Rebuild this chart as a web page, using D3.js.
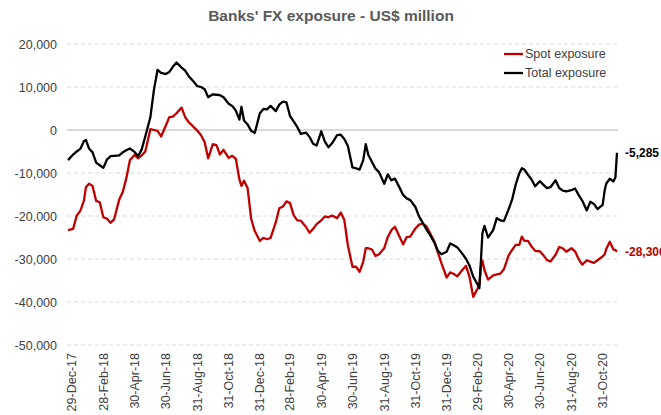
<!DOCTYPE html>
<html>
<head>
<meta charset="utf-8">
<script src="https://cdn.jsdelivr.net/npm/d3@7"></script>
<style>
  body { margin: 0; background: #fff; font-family: Arial, "Liberation Sans", sans-serif; }
</style>
</head>
<body>
<svg id="chart" width="661" height="415"></svg>
<script>
// observation dates (roughly weekly, extra points at sharp moves)
const dates = [
  '2017-12-22',
  '2018-01-01','2018-01-08','2018-01-15','2018-01-22','2018-01-26',
  '2018-02-01','2018-02-08','2018-02-15','2018-02-22',
  '2018-03-01','2018-03-08','2018-03-15','2018-03-22',
  '2018-04-01','2018-04-08','2018-04-15','2018-04-22',
  '2018-05-01','2018-05-08','2018-05-15','2018-05-22',
  '2018-06-01','2018-06-08','2018-06-15','2018-06-22',
  '2018-07-01','2018-07-08','2018-07-15','2018-07-22',
  '2018-08-01','2018-08-08','2018-08-15','2018-08-22',
  '2018-09-01','2018-09-08','2018-09-15','2018-09-22',
  '2018-10-01','2018-10-08','2018-10-15','2018-10-22',
  '2018-11-01','2018-11-08','2018-11-15','2018-11-22','2018-11-26',
  '2018-12-01','2018-12-08','2018-12-15','2018-12-22',
  '2019-01-01','2019-01-08','2019-01-15','2019-01-22',
  '2019-02-01','2019-02-08','2019-02-15','2019-02-22',
  '2019-03-01','2019-03-08','2019-03-15','2019-03-22',
  '2019-04-01','2019-04-08','2019-04-15','2019-04-22',
  '2019-05-01','2019-05-08','2019-05-15','2019-05-22',
  '2019-06-01','2019-06-08','2019-06-15','2019-06-22',
  '2019-07-01','2019-07-08','2019-07-15','2019-07-22','2019-07-27',
  '2019-08-01','2019-08-08','2019-08-15','2019-08-22',
  '2019-09-01','2019-09-08','2019-09-15','2019-09-22',
  '2019-10-01','2019-10-08','2019-10-15','2019-10-22',
  '2019-11-01','2019-11-08','2019-11-15','2019-11-22',
  '2019-12-01','2019-12-08','2019-12-15','2019-12-22',
  '2020-01-01','2020-01-08','2020-01-15','2020-01-22',
  '2020-02-01','2020-02-08','2020-02-15','2020-02-22',
  '2020-03-01','2020-03-05','2020-03-08','2020-03-11','2020-03-15','2020-03-22',
  '2020-04-01','2020-04-08','2020-04-15','2020-04-22',
  '2020-05-01','2020-05-08','2020-05-15','2020-05-22','2020-05-27',
  '2020-06-01','2020-06-08','2020-06-15','2020-06-22',
  '2020-07-01','2020-07-08','2020-07-15','2020-07-22',
  '2020-08-01','2020-08-08','2020-08-15','2020-08-22',
  '2020-09-01','2020-09-08','2020-09-15','2020-09-22',
  '2020-10-01','2020-10-08','2020-10-15','2020-10-22',
  '2020-11-01','2020-11-05','2020-11-08','2020-11-15','2020-11-22','2020-11-26','2020-11-29'
];

// US$ million
const spot = [
  -23300,
  -23000,-19900,-18800,-16500,-13300,
  -12500,-13000,-16500,-16800,
  -20300,-20600,-21600,-20800,
  -16200,-14400,-11200,-7000,
  -5800,-6600,-5900,-5000,
  200,0,-200,-1500,
  1000,3000,3100,3900,
  5200,3000,1800,1000,
  -200,-1200,-2800,-6600,
  -3300,-3500,-5700,-4600,
  -6500,-6000,-6700,-11500,-13000,
  -11800,-13500,-20700,-23500,
  -25800,-25100,-25400,-25100,
  -21500,-18200,-17800,-16600,
  -17000,-19800,-21000,-21100,
  -22500,-23900,-23000,-21900,
  -21000,-20100,-20300,-19900,
  -20500,-19200,-20900,-26800,
  -31800,-31800,-33000,-30600,-27500,
  -27500,-27800,-29300,-28900,
  -27500,-24900,-23300,-22500,
  -24800,-26600,-24900,-24800,
  -22900,-22000,-21800,-22300,
  -24300,-25900,-28500,-31000,
  -34300,-33100,-33500,-34000,
  -32500,-31600,-34300,-38800,
  -37000,-36000,-31800,-30400,-32600,-34800,
  -33800,-33600,-33400,-32400,
  -29200,-27900,-26700,-26700,-24800,
  -25800,-25800,-27100,-28100,
  -28200,-29100,-30200,-30600,
  -29000,-27200,-27500,-28300,
  -27500,-28200,-30000,-31300,
  -30300,-30600,-30900,-30300,
  -29400,-28900,-27700,-26000,-27800,-27900,-28306
];

const total = [
  -7000,
  -5700,-5000,-4400,-2600,-2300,
  -4300,-5200,-7600,-8200,
  -8800,-6900,-6100,-6000,
  -5900,-5200,-4700,-4300,
  -5100,-6100,-4500,-1500,
  3000,9400,14000,13300,
  13000,13500,14700,15700,
  14500,13800,12500,11600,
  10200,10000,9500,7600,
  8300,8200,8100,7600,
  6100,5600,4500,2400,5400,
  2200,1300,-200,-700,
  3900,4900,4800,5600,
  4400,5900,6600,6400,
  3200,2000,700,-900,
  -600,-1600,-3200,-3600,
  -300,-2700,-4000,-3100,
  -1200,-1100,-2100,-3700,
  -8700,-8900,-9200,-7000,-3300,
  -5800,-7400,-9000,-9800,
  -12500,-10300,-11700,-11300,
  -13400,-15100,-15900,-16300,
  -17900,-20100,-21500,-23000,
  -24700,-26200,-28100,-28900,
  -28300,-26400,-26800,-27300,
  -28800,-30000,-31600,-34100,
  -35800,-36800,-30500,-24000,-22300,-25000,
  -23300,-20500,-21000,-21200,
  -18500,-16200,-12700,-10100,-8900,
  -9200,-10400,-11500,-13100,
  -11900,-12700,-13500,-13300,
  -11700,-13500,-14100,-14300,
  -14000,-13600,-15100,-16400,
  -18700,-16700,-17200,-18400,
  -17400,-14000,-12500,-11300,-12000,-11000,-5285
];

const tickDates = [
  '2017-12-29','2018-02-28','2018-04-30','2018-06-30','2018-08-31','2018-10-31',
  '2018-12-31','2019-02-28','2019-04-30','2019-06-30','2019-08-31','2019-10-31',
  '2019-12-31','2020-02-29','2020-04-30','2020-06-30','2020-08-31','2020-10-31'
];
const yTicks = [-50000, -40000, -30000, -20000, -10000, 0, 10000, 20000];
const seriesNames = ['Spot exposure', 'Total exposure'];
const colors = ['#c00000', '#000000'];

const svg = d3.select('#chart');
const parse = d3.utcParse('%Y-%m-%d');
const fmt = d3.formatLocale({decimal: '.', thousands: ',', grouping: [3], currency: ['$', ''], minus: '-'}).format(',');

const plot = {left: 67, right: 618, top: 44, bottom: 345};

const x = d3.scaleUtc()
  .domain([parse('2017-12-20'), parse('2020-12-01')])
  .range([plot.left, plot.right]);
const y = d3.scaleLinear()
  .domain([-50000, 20000])
  .range([plot.bottom, plot.top]);

// title
svg.append('text')
  .attr('x', 331)
  .attr('y', 21)
  .attr('text-anchor', 'middle')
  .style('font-size', '15.5px')
  .style('font-weight', 'bold')
  .style('fill', '#595959')
  .text("Banks' FX exposure - US$ million");

// gridlines
svg.append('g')
  .selectAll('line')
  .data(yTicks)
  .join('line')
    .attr('x1', plot.left)
    .attr('x2', plot.right)
    .attr('y1', d => y(d))
    .attr('y2', d => y(d))
    .attr('stroke', '#d9d9d9')
    .attr('stroke-width', d => d === 0 ? 2 : 1)
    .attr('stroke-dasharray', d => d === 0 ? null : '4,3');

// y axis
const yAxis = svg.append('g')
  .attr('transform', 'translate(' + plot.left + ',0)')
  .call(d3.axisLeft(y).tickValues(yTicks).tickSize(0).tickPadding(10).tickFormat(fmt));
yAxis.select('.domain').remove();
yAxis.selectAll('text')
  .style('font-size', '12.5px')
  .style('font-family', 'Arial, "Liberation Sans", sans-serif')
  .style('fill', '#404040');

// x axis
const xAxis = svg.append('g')
  .attr('transform', 'translate(0,' + plot.bottom + ')')
  .call(d3.axisBottom(x)
    .tickValues(tickDates.map(parse))
    .tickSize(0)
    .tickFormat(d3.utcFormat('%d-%b-%y')));
xAxis.select('.domain').remove();
xAxis.selectAll('text')
  .attr('transform', 'rotate(-90)')
  .attr('x', -8)
  .attr('y', 0)
  .attr('dy', '0.35em')
  .attr('text-anchor', 'end')
  .style('font-size', '12.5px')
  .style('font-family', 'Arial, "Liberation Sans", sans-serif')
  .style('fill', '#404040');

// lines
const series = [spot, total].map((vals, i) => ({
  name: seriesNames[i],
  color: colors[i],
  values: vals.map((v, j) => ({date: parse(dates[j]), value: v}))
}));

const line = d3.line()
  .x(d => x(d.date))
  .y(d => y(d.value));

svg.append('g')
  .selectAll('path')
  .data(series)
  .join('path')
    .attr('d', d => line(d.values))
    .attr('fill', 'none')
    .attr('stroke', d => d.color)
    .attr('stroke-width', 2.3)
    .attr('stroke-linejoin', 'round');

// end labels
svg.append('g')
  .selectAll('text')
  .data(series)
  .join('text')
    .attr('x', d => x(d.values[d.values.length - 1].date) + 8)
    .attr('y', d => y(d.values[d.values.length - 1].value))
    .attr('dy', '0.35em')
    .style('font-size', '12px')
    .style('font-weight', 'bold')
    .style('fill', d => d.color)
    .text(d => fmt(d.values[d.values.length - 1].value));

// legend
const legend = svg.append('g')
  .selectAll('g')
  .data(series)
  .join('g')
    .attr('transform', (d, i) => 'translate(504,' + (54 + i * 19) + ')');
legend.append('line')
  .attr('x1', 0)
  .attr('x2', 19)
  .attr('stroke', d => d.color)
  .attr('stroke-width', 2.3);
legend.append('text')
  .attr('x', 21)
  .attr('dy', '0.35em')
  .style('font-size', '12.5px')
  .style('fill', '#404040')
  .text(d => d.name);
</script>
</body>
</html>
